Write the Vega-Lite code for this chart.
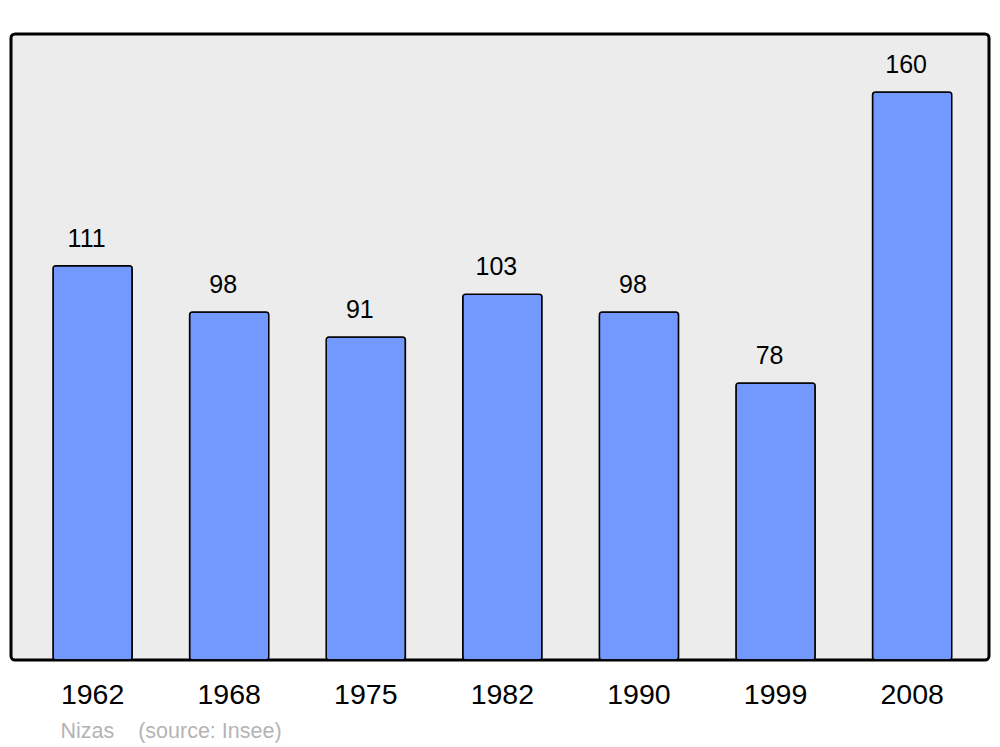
{
  "$schema": "https://vega.github.io/schema/vega-lite/v6.json",
  "width": 978,
  "height": 626,
  "autosize": {"type": "none"},
  "padding": {"left": 11, "top": 34, "right": 11, "bottom": 87},
  "background": "white",
  "config": {
    "font": "Liberation Sans",
    "view": {"fill": "#ececec", "stroke": "black", "strokeWidth": 3, "cornerRadius": 4}
  },
  "data": {
    "values": [
      {"year": "1962", "pop": 111},
      {"year": "1968", "pop": 98},
      {"year": "1975", "pop": 91},
      {"year": "1982", "pop": 103},
      {"year": "1990", "pop": 98},
      {"year": "1999", "pop": 78},
      {"year": "2008", "pop": 160}
    ]
  },
  "encoding": {
    "x": {
      "field": "year",
      "type": "nominal",
      "sort": null,
      "scale": {"paddingInner": 0.42, "paddingOuter": 0.29, "align": 0.53},
      "axis": {
        "title": "Nizas\u00a0\u00a0\u00a0\u00a0(source: Insee)",
        "titleFont": "Liberation Sans",
        "titleFontSize": 21.5,
        "titleFontWeight": "normal",
        "titleColor": "#b4b4b4",
        "titleAlign": "left",
        "titleAnchor": "start",
        "titleX": 49,
        "titleY": 77,
        "titleBaseline": "alphabetic",
        "labelAngle": 0,
        "labelFontSize": 28.5,
        "labelColor": "black",
        "labelPadding": 43,
        "labelBaseline": "alphabetic",
        "ticks": false,
        "domain": false,
        "grid": false
      }
    },
    "y": {
      "field": "pop",
      "type": "quantitative",
      "scale": {"domain": [0, 176.3], "nice": false, "zero": true},
      "axis": null
    }
  },
  "layer": [
    {
      "mark": {"type": "bar", "fill": "#7399ff", "stroke": "black", "strokeWidth": 1.5, "cornerRadius": 3}
    },
    {
      "mark": {"type": "text", "fontSize": 25, "color": "black", "baseline": "alphabetic", "dy": -19, "dx": -6, "font": "Liberation Sans"},
      "encoding": {"text": {"field": "pop", "type": "quantitative"}}
    }
  ]
}
